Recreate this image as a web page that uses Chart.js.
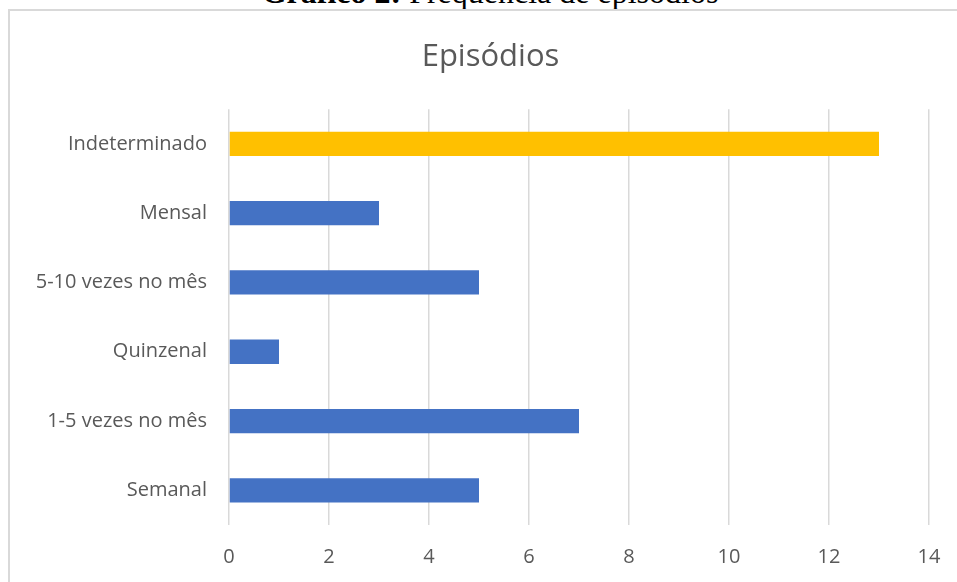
<!DOCTYPE html>
<html>
<head>
<meta charset="utf-8">
<script src="https://cdn.jsdelivr.net/npm/chart.js@4.4.1/dist/chart.umd.min.js"></script>
<style>
  html, body { margin: 0; padding: 0; background: #fff; overflow: hidden; width: 957px; height: 582px; }
  #caption {
    position: absolute; left: 0; top: -24px; width: 980px; text-align: center;
    font-family: "Liberation Serif", serif; font-size: 32px; line-height: 32px; color: #000;
  }
  #frame {
    position: absolute; left: 8px; top: 9px; width: 990px; height: 600px;
    border: 2px solid #d9d9d9;
  }
  #wrap { position: absolute; left: 10px; top: 11px; width: 964px; height: 571px; }
</style>
</head>
<body>
<div id="caption"><b>Gráfico 2:</b> Frequência de episódios</div>
<div id="frame"></div>
<div id="wrap"><canvas id="chart"></canvas></div>
<script>
// categories listed top to bottom as in the picture
const categories = ['Indeterminado', 'Mensal', '5-10 vezes no mês', 'Quinzenal', '1-5 vezes no mês', 'Semanal'];
const counts = [13, 3, 5, 1, 7, 5];
const barColors = ['#ffc000', '#4472c4', '#4472c4', '#4472c4', '#4472c4', '#4472c4'];
const xMax = 14;
const xStep = 2;

const gray = '#595959';
const font = '"Open Sans", "Noto Sans", sans-serif';

// the chart frame runs past the right edge, so its title sits right of the canvas centre
const shiftTitle = {
  id: 'shiftTitle',
  afterLayout: (chart) => {
    const t = chart.titleBlock;
    if (t) {
      t.left += 21;
      t.right += 21;
    }
  },
};

const config = {
  type: 'bar',
  plugins: [shiftTitle],
  data: {
    labels: categories,
    datasets: [
      {
        data: counts,
        backgroundColor: barColors,
        borderWidth: 0,
        barPercentage: 0.35,
        categoryPercentage: 1,
      },
    ],
  },
  options: {
    indexAxis: 'y',
    responsive: true,
    maintainAspectRatio: false,
    devicePixelRatio: 1,
    animation: false,
    layout: { padding: { left: 0, right: 45, top: 28, bottom: 0 } },
    plugins: {
      legend: { display: false },
      tooltip: { enabled: false },
      title: {
        display: true,
        text: 'Episódios',
        color: gray,
        font: { family: font, size: 31, weight: 'normal' },
        padding: { top: 0, bottom: 33 },
      },
    },
    scales: {
      x: {
        min: 0,
        max: xMax,
        ticks: {
          stepSize: xStep,
          color: gray,
          padding: 20,
          font: { family: font, size: 20 },
        },
        grid: { color: '#d9d9d9', lineWidth: 1.5, drawTicks: false },
        border: { display: false },
        afterFit: (scale) => { scale.height = 57; },
      },
      y: {
        ticks: {
          color: gray,
          padding: 22,
          font: { family: font, size: 20 },
        },
        grid: { display: false, drawTicks: false },
        border: { display: false },
        afterFit: (scale) => { scale.width = 219; },
      },
    },
  },
};

new Chart(document.getElementById('chart'), config);
</script>
</body>
</html>
